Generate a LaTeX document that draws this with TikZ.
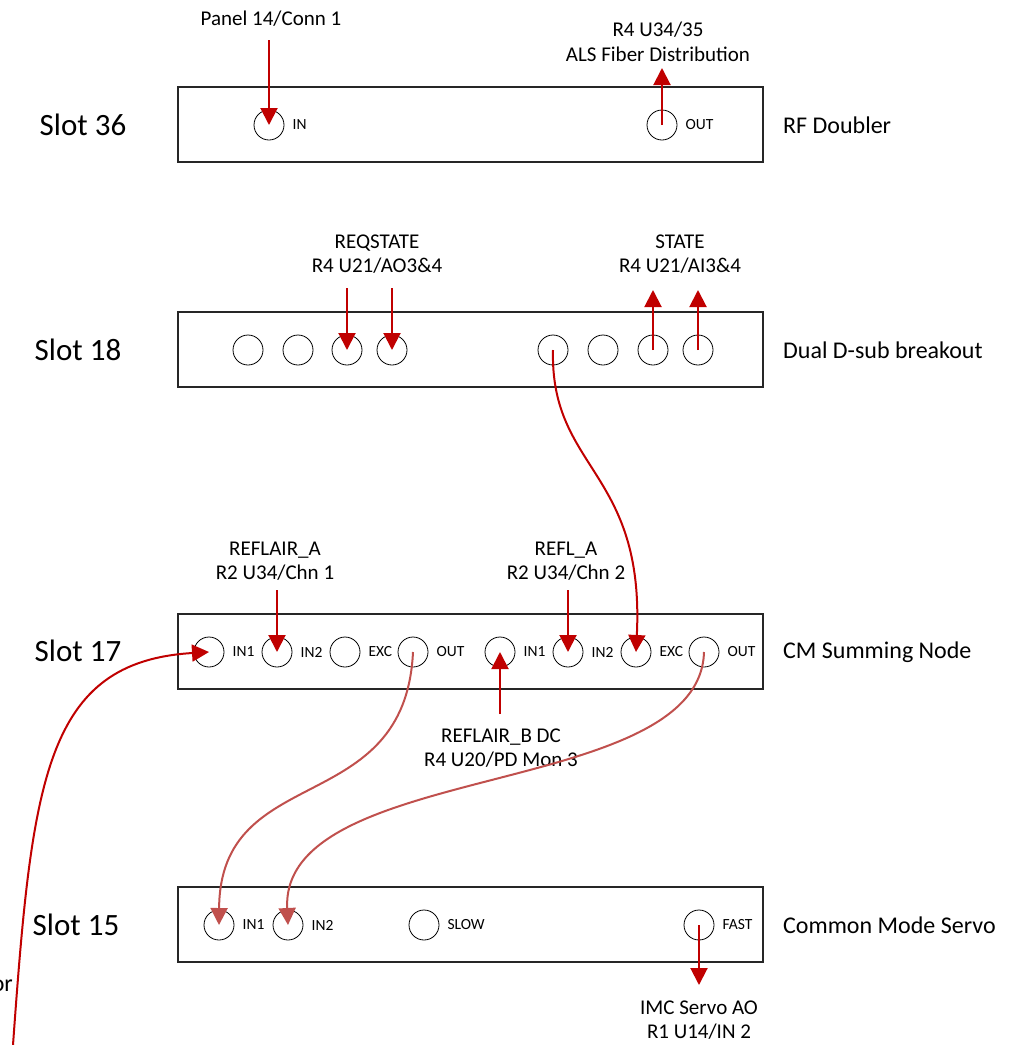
\documentclass[tikz,border=0pt]{standalone}
\usepackage{fontspec}
\setmainfont{Carlito}
\usetikzlibrary{arrows.meta,positioning}

\definecolor{wirered}{HTML}{C00000}
\definecolor{cablered}{HTML}{C0504D}

\begin{document}
\begin{tikzpicture}[x=1pt,y=-1pt]
  \tikzset{port/.style = {shape=circle,draw,minimum size=30pt,inner sep=0pt,line width=0.8pt}}
  \tikzset{plabel/.style = {inner sep=0pt,font=\fontsize{15.5}{17}\selectfont}}
  \tikzset{slot/.style = {inner sep=0pt,font=\fontsize{31}{36}\selectfont}}
  \tikzset{unit/.style = {anchor=west,inner sep=0pt,font=\fontsize{24}{28}\selectfont}}
  \tikzset{wtext/.style = {inner sep=0pt,align=center,font=\fontsize{21}{24.5}\selectfont}}
  \tikzset{rack/.style = {draw=black!85,line width=1.1pt}}
  \tikzset{%
  tipA/.tip={Triangle[width=17pt,length=17pt]},
}
  \tikzset{edge/.style = {-tipA,line width=2pt,draw=wirered}}
  \tikzset{cable/.style = {-tipA,line width=2pt,draw=cablered}}

  \useasboundingbox (0,0) rectangle (1015,1045);

	% chassis boxes
	\draw[rack] (178,87) rectangle (763,162);
	\draw[rack] (178,312) rectangle (763,387);
	\draw[rack] (178,614) rectangle (763,689);
	\draw[rack] (178,887) rectangle (763,962);

	\node[slot] (L36) at (83,125) {Slot 36};
	\node[slot] (L18) at (78,350) {Slot 18};
	\node[slot] (L17) at (78,651) {Slot 17};
	\node[slot] (L15) at (76,925) {Slot 15};

	\node[unit] (U36) at (783,125) {RF Doubler};
	\node[unit] (U18) at (783,350) {Dual D-sub breakout};
	\node[unit] (U17) at (783,652) {CM Summing Node};
	\node[unit] (U15) at (783,925) {Common Mode Servo};
	\node[unit,anchor=east] (cut) at (13,986) {or};

	% ports
	\foreach \nm/\px/\py/\txt in {s36in/269/125/IN, s36out/662/125/OUT,
	    s17a/209/652/IN1, s17b/277/652/IN2, s17c/345/652/EXC, s17d/413/652/OUT,
	    s17e/500/652/IN1, s17f/568/652/IN2, s17g/636/652/EXC, s17h/704/652/OUT,
	    s15a/219/925/IN1, s15b/288/925/IN2, s15c/424/925/SLOW, s15d/699/925/FAST}
	{
	\node[port] (\nm) at (\px,\py) {};
	\node[plabel, right=8pt of \nm] (\nm-l) {\txt};
	}
	\foreach \nm/\px in {s18a/248, s18b/298, s18c/347, s18d/392,
	    s18e/553, s18f/603, s18g/653, s18h/698}
	\node[port] (\nm) at (\px,350) {};

	% signal names
	\node[wtext] (T1) at (271,19) {Panel 14/Conn 1};
	\node[wtext] (T2) at (658,42) {R4 U34/35\\ALS Fiber Distribution};
	\node[wtext] (T3) at (377,254) {REQSTATE\\R4 U21/AO3\&4};
	\node[wtext] (T4) at (680,254) {STATE\\R4 U21/AI3\&4};
	\node[wtext] (T5) at (275,561) {REFLAIR\_A\\R2 U34/Chn 1};
	\node[wtext] (T6) at (566,561) {REFL\_A\\R2 U34/Chn 2};
	\node[wtext] (T7) at (501,748) {REFLAIR\_B DC\\R4 U20/PD Mon 3};
	\node[wtext] (T8) at (699,1020) {IMC Servo AO\\R1 U14/IN 2};

	% free wire ends
	\coordinate (c1) at (269,40);
	\coordinate (c2) at (662,68);
	\coordinate (c3) at (347,288);
	\coordinate (c4) at (392,288);
	\coordinate (c5) at (653,290);
	\coordinate (c6) at (698,290);
	\coordinate (c7) at (277,590);
	\coordinate (c8) at (568,590);
	\coordinate (c9) at (500,714);
	\coordinate (c10) at (699,985);
	\coordinate (c11) at (13,1045);

	\foreach \from/\to in {c1/s36in,c3/s18c,c4/s18d,c7/s17b,c8/s17f,c9/s17e}
	\draw[edge] (\from) -- (\to.center);
	\foreach \from/\to in {s36out/c2,s18g/c5,s18h/c6,s15d/c10}
	\draw[edge] (\from.center) -- (\to);

	% patch cables
	\draw[edge] (s18e.center) .. controls (550,470) and (645,470) .. (s17g.center);
	\draw[cable] (s17d.center) .. controls (405,820) and (220,760) .. (s15a.center);
	\draw[cable] (s17h.center) .. controls (700,800) and (280,760) .. (s15b.center);
	\draw[edge] (c11) .. controls (32,780) and (45,662) .. (s17a.center);

\end{tikzpicture}
\end{document}
